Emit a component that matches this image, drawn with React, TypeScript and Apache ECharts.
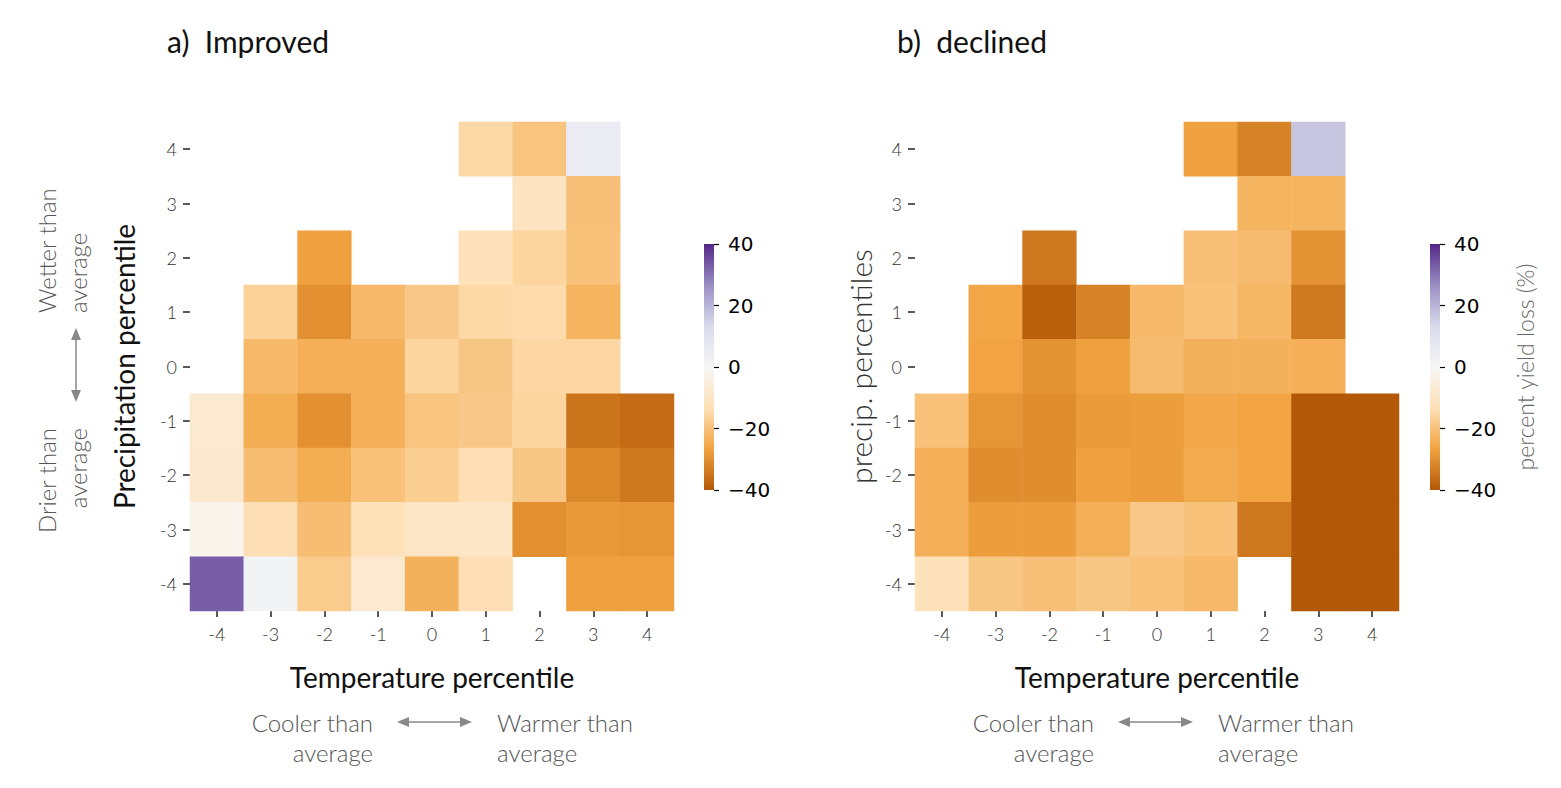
import React, { useEffect, useRef } from "react";
import * as echarts from "echarts";

const tempLabels = ["-4", "-3", "-2", "-1", "0", "1", "2", "3", "4"];
const precipLabels = ["-4", "-3", "-2", "-1", "0", "1", "2", "3", "4"];
const colorbarTicks = [-40, -20, 0, 20, 40];

// rows listed from precipitation 4 (top) down to -4 (bottom); columns temperature -4..4
const improvedRows: (number | null)[][] = [
  [null, null, null, null, null, -15, -19.5, 5, null],
  [null, null, null, null, null, null, -11, -20.5, null],
  [null, null, -27, null, null, -12, -16, -20, null],
  [null, -16.5, -30, -22, -18.5, -15, -14.5, -23, null],
  [null, -22, -24, -24, -16, -19, -15.5, -15.5, null],
  [-8, -24.5, -30, -24, -19.5, -18.5, -16, -35, -36.5],
  [-8.5, -21, -24.5, -20, -17.5, -13.5, -19, -31.5, -34.5],
  [-2.5, -13.5, -21, -13, -10, -10, -30, -28.5, -29],
  [33, 2, -18, -8, -23.5, -13.5, null, -27, -27],
];

const declinedRows: (number | null)[][] = [
  [null, null, null, null, null, -27, -32.5, 17, null],
  [null, null, null, null, null, null, -23, -23, null],
  [null, null, -34.5, null, null, -20.5, -21.5, -29.5, null],
  [null, -26, -38.5, -32.5, -22, -20, -22.5, -34, null],
  [null, -26.5, -29.5, -27, -21.5, -23.5, -23.5, -24, null],
  [-20, -29, -30.5, -28, -27.5, -25.5, -26.5, -40, -40],
  [-24, -30.5, -30.5, -27, -27.5, -25, -26.5, -40, -40],
  [-24, -27.5, -27.5, -24, -18.5, -20, -34.5, -40, -40],
  [-12, -19, -20.5, -19, -20, -22, null, -40, -40],
];

const cmap = ["#b35806", "#f1a340", "#fee0b6", "#f7f7f7", "#d8daeb", "#998ec3", "#542788"];

function toData(rows: (number | null)[][]) {
  const out: any[] = [];
  rows.forEach((row, r) => {
    const yi = precipLabels.length - 1 - r;
    row.forEach((v, xi) => {
      if (v !== null) out.push([xi, yi, v]);
    });
  });
  return out;
}

const LIGHT = "Lato";
const tickColor = "#333";

function heatAxes(gi: number, yName: string, yNameStyle: any) {
  const x = {
    type: "category",
    gridIndex: gi,
    data: tempLabels,
    name: "Temperature percentile",
    nameLocation: "middle",
    nameGap: 52,
    nameTextStyle: { fontSize: 28, color: "#111", fontFamily: LIGHT, fontWeight: 400 },
    axisLine: { show: false },
    axisTick: { show: true, alignWithLabel: true, length: 6, lineStyle: { color: "#222", width: 1.5 } },
    axisLabel: { fontSize: 18, color: tickColor, fontFamily: LIGHT, fontWeight: 300, margin: 14 },
    splitLine: { show: false },
  };
  const y = {
    type: "category",
    gridIndex: gi,
    data: precipLabels,
    name: yName,
    nameLocation: "middle",
    nameGap: yNameStyle.gap,
    nameRotate: 90,
    nameTextStyle: { fontSize: yNameStyle.size, color: yNameStyle.color, fontFamily: LIGHT, fontWeight: yNameStyle.weight },
    axisLine: { show: false },
    axisTick: { show: true, alignWithLabel: true, length: 7, lineStyle: { color: "#222", width: 1.5 } },
    axisLabel: { fontSize: 18, color: tickColor, fontFamily: LIGHT, fontWeight: 300, margin: 13 },
    splitLine: { show: false },
  };
  return { x, y };
}

function cbAxes(gi: number, name: string) {
  const x = { type: "category", gridIndex: gi, data: ["cb"], show: false };
  const y = {
    type: "value",
    gridIndex: gi,
    position: "right",
    min: -40,
    max: 40,
    interval: 20,
    name,
    nameLocation: "middle",
    nameRotate: 90,
    nameGap: 73,
    nameTextStyle: { fontSize: 23, color: "#666", fontFamily: LIGHT, fontWeight: 300 },
    axisLine: { show: false },
    axisTick: { show: true, length: 5, lineStyle: { color: "#000", width: 1.2 } },
    axisLabel: {
      fontSize: 20,
      color: "#000",
      fontFamily: "DejaVu Sans",
      margin: 14,
      formatter: (v: number) => (colorbarTicks.includes(v) ? (v < 0 ? "\u2212" + Math.abs(v) : String(v)) : ""),
    },
    splitLine: { show: false },
  };
  return { x, y };
}

function colorbarSeries(axisIdx: number) {
  return {
    type: "custom",
    xAxisIndex: axisIdx,
    yAxisIndex: axisIdx,
    silent: true,
    data: [[0, -40, 40]],
    encode: { x: 0, y: [1, 2] },
    renderItem: (params: any, api: any) => {
      const top = api.coord([0, api.value(2)]);
      const bot = api.coord([0, api.value(1)]);
      const w = api.size([1, 0])[0];
      const stops = cmap
        .slice()
        .reverse()
        .map((c, i) => ({ offset: i / (cmap.length - 1), color: c }));
      return {
        type: "rect",
        shape: { x: top[0] - w / 2, y: top[1], width: w, height: bot[1] - top[1] },
        style: { fill: new echarts.graphic.LinearGradient(0, 0, 0, 1, stops) },
      };
    },
  };
}

const ANN = 24;

function annotations(offsetX: number) {
  const grey = "#555";
  const arrowGrey = "#888";
  const txt = (x: number, y: number, text: string, align: string) => ({
    type: "text",
    x: x + offsetX,
    y,
    style: { text, fontSize: ANN, fill: grey, fontFamily: LIGHT, fontWeight: 300, align, verticalAlign: "middle" },
  });
  const ax0 = 397 + offsetX;
  const ax1 = 472 + offsetX;
  const ay = 722;
  return [
    txt(373, 722, "Cooler than", "right"),
    txt(373, 752, "average", "right"),
    txt(497, 722, "Warmer than", "left"),
    txt(497, 752, "average", "left"),
    { type: "line", shape: { x1: ax0 + 10, y1: ay, x2: ax1 - 10, y2: ay }, style: { stroke: arrowGrey, lineWidth: 1.5 } },
    { type: "polygon", shape: { points: [[ax0, ay], [ax0 + 12, ay - 5], [ax0 + 12, ay + 5]] }, style: { fill: arrowGrey } },
    { type: "polygon", shape: { points: [[ax1, ay], [ax1 - 12, ay - 5], [ax1 - 12, ay + 5]] }, style: { fill: arrowGrey } },
  ];
}

export default function App() {
  const ref = useRef<HTMLDivElement>(null);
  useEffect(() => {
    if (!ref.current) return;
    const chart = echarts.init(ref.current, null, { renderer: "svg" });
    const a = heatAxes(0, "Precipitation percentile", { gap: 52, color: "#111", weight: 400, size: 28 });
    const b = heatAxes(1, "precip. percentiles", { gap: 40, color: "#333", weight: 300, size: 30 });
    const ca = cbAxes(2, "");
    const cb = cbAxes(3, "percent yield loss (%)");
    const grey = "#555";
    const vx = 76;
    const option: any = {
      animation: false,
      backgroundColor: "#fff",
      grid: [
        { left: 190, top: 122, width: 484, height: 489 },
        { left: 915, top: 122, width: 484, height: 489 },
        { left: 704, top: 244, width: 10, height: 246 },
        { left: 1430, top: 244, width: 10, height: 246 },
      ],
      xAxis: [a.x, b.x, ca.x, cb.x],
      yAxis: [a.y, b.y, ca.y, cb.y],
      visualMap: {
        type: "continuous",
        show: false,
        min: -40,
        max: 40,
        seriesIndex: [0, 1],
        inRange: { color: cmap },
      },
      series: [
        { type: "heatmap", xAxisIndex: 0, yAxisIndex: 0, data: toData(improvedRows), itemStyle: { borderWidth: 0 } },
        { type: "heatmap", xAxisIndex: 1, yAxisIndex: 1, data: toData(declinedRows), itemStyle: { borderWidth: 0 } },
        colorbarSeries(2),
        colorbarSeries(3),
      ],
      graphic: [
        { type: "text", x: 167, y: 41, style: { text: "a)  Improved", fontSize: 30, fill: "#111", fontFamily: LIGHT, fontWeight: 400, verticalAlign: "middle" } },
        { type: "text", x: 897, y: 41, style: { text: "b)  declined", fontSize: 30, fill: "#111", fontFamily: LIGHT, fontWeight: 400, verticalAlign: "middle" } },
        ...annotations(0),
        ...annotations(721),
        {
          type: "text",
          x: 46,
          y: 313,
          rotation: Math.PI / 2,
          style: { text: "Wetter than", fontSize: ANN, fill: grey, fontFamily: LIGHT, fontWeight: 300, align: "left", verticalAlign: "middle" },
        },
        {
          type: "text",
          x: 77,
          y: 313,
          rotation: Math.PI / 2,
          style: { text: "average", fontSize: ANN, fill: grey, fontFamily: LIGHT, fontWeight: 300, align: "left", verticalAlign: "middle" },
        },
        {
          type: "text",
          x: 46,
          y: 428,
          rotation: Math.PI / 2,
          style: { text: "Drier than", fontSize: ANN, fill: grey, fontFamily: LIGHT, fontWeight: 300, align: "right", verticalAlign: "middle" },
        },
        {
          type: "text",
          x: 77,
          y: 428,
          rotation: Math.PI / 2,
          style: { text: "average", fontSize: ANN, fill: grey, fontFamily: LIGHT, fontWeight: 300, align: "right", verticalAlign: "middle" },
        },
        { type: "line", shape: { x1: vx, y1: 338, x2: vx, y2: 392 }, style: { stroke: "#888", lineWidth: 1.5 } },
        { type: "polygon", shape: { points: [[vx, 328], [vx - 5, 340], [vx + 5, 340]] }, style: { fill: "#888" } },
        { type: "polygon", shape: { points: [[vx, 402], [vx - 5, 390], [vx + 5, 390]] }, style: { fill: "#888" } },
      ],
    };
    chart.setOption(option);
    return () => chart.dispose();
  }, []);
  return <div ref={ref} style={{ position: "fixed", left: 0, top: 0, width: 1561, height: 788 }} />;
}
